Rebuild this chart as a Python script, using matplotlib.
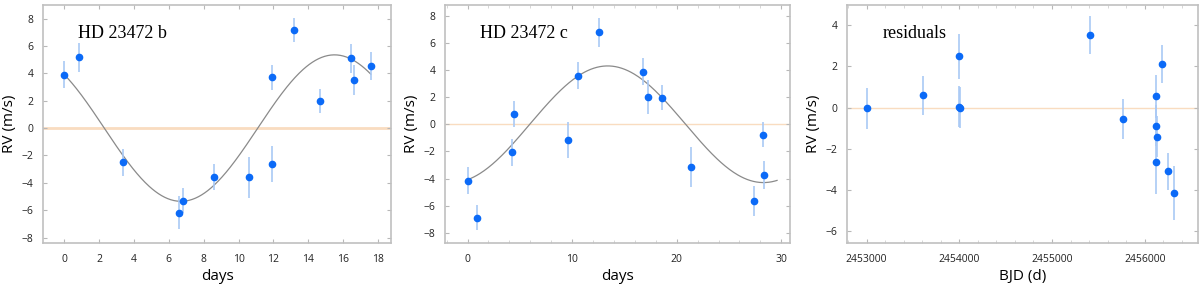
import matplotlib.pyplot as plt
import numpy as np
from matplotlib.ticker import AutoMinorLocator

# HD 23472 b phase data
b_days = [0.0, 0.86, 3.36, 6.59, 6.84, 8.6, 10.6, 11.94, 11.94, 13.2, 14.68, 16.45, 16.59, 17.58]
b_rv = [3.9, 5.17, -2.5, -6.19, -5.31, -3.55, -3.6, 3.7, -2.63, 7.17, 1.99, 5.09, 3.53, 4.53]
b_err = [1.0, 1.07, 1.0, 1.2, 0.9, 0.95, 1.5, 0.9, 1.3, 0.9, 0.9, 1.05, 1.1, 1.0]
# model parameters (K, P, time of max)
b_K, b_P, b_tmax = 5.35, 17.6, 15.5

# HD 23472 c phase data
c_days = [0.0, 0.92, 4.27, 4.46, 9.63, 10.55, 12.56, 16.77, 17.28, 18.58, 21.36, 27.35, 28.28, 28.31]
c_rv = [-4.16, -6.89, -2.07, 0.76, -1.16, 3.59, 6.77, 3.86, 2.04, 1.97, -3.15, -5.64, -0.76, -3.74]
c_err = [1.0, 0.92, 1.0, 0.95, 1.3, 1.0, 1.1, 1.0, 1.25, 0.95, 1.5, 1.1, 0.9, 1.0]
c_K, c_P, c_tmax = 4.3, 29.8, 13.4

# residuals
r_bjd = [2453000, 2453609, 2453995, 2453995, 2454003, 2455409, 2455770, 2456123,
         2456116, 2456127, 2456119, 2456188, 2456246, 2456314]
r_rv = [-0.04, 0.61, 2.5, 0.04, 0.0, 3.52, -0.54, 0.54, -0.88, -1.41, -2.67, 2.13, -3.11, -4.16]
r_err = [1.0, 0.95, 1.1, 1.0, 1.0, 0.93, 0.98, 1.03, 1.0, 1.0, 1.55, 0.93, 0.91, 1.3]

plt.rcParams['font.family'] = ['Open Sans', 'DejaVu Sans']

fig = plt.figure(figsize=(12, 2.88), dpi=100)
ax1 = fig.add_axes([0.036, 0.156, 0.290, 0.827])
ax2 = fig.add_axes([0.371, 0.156, 0.287, 0.827])
ax3 = fig.add_axes([0.706, 0.156, 0.292, 0.827])

pt = '#0b6af7'
eb = '#a9c9f5'
zero_c = '#f9dcc0'


def style(ax, xlabel, xminor):
    for s in ax.spines.values():
        s.set_color('#c0c0c0')
        s.set_linewidth(1.2)
    ax.tick_params(direction='in', top=True, right=True, labelsize=7.5,
                   color='#b8b8b8', length=3, labelcolor='#222222')
    ax.tick_params(axis='x', pad=8)
    ax.tick_params(axis='y', pad=7)
    if xminor:
        ax.xaxis.set_minor_locator(AutoMinorLocator(xminor))
        ax.tick_params(which='minor', direction='in', top=True, color='#d0d0d0', length=2)
    ax.set_xlabel(xlabel, fontsize=11, labelpad=3)
    ax.set_ylabel('RV (m/s)', fontsize=11, labelpad=3)


def panel(ax, x, y, e, label, lw0):
    ax.axhline(0, color=zero_c, lw=lw0, zorder=1)
    ax.errorbar(x, y, yerr=e, fmt='o', color=pt, ms=4.5, ecolor=eb, elinewidth=1.2, capsize=0, zorder=3)
    ax.text(0.1, 0.86, label, transform=ax.transAxes, fontsize=13, family='Liberation Serif')


# panel b
t = np.linspace(0, b_days[-1], 300)
ax1.plot(t, b_K * np.cos(2 * np.pi * (t - b_tmax) / b_P), color='#8a8a8a', lw=0.9, zorder=2)
panel(ax1, b_days, b_rv, b_err, 'HD 23472 b', 2)
ax1.set_xlim(-1.2, 18.75)
ax1.set_ylim(-8.4, 9.0)
ax1.set_xticks(np.arange(0, 19, 2))
ax1.set_yticks(np.arange(-8, 9, 2))
style(ax1, 'days', None)

# panel c
t = np.linspace(0, 29.6, 300)
ax2.plot(t, c_K * np.cos(2 * np.pi * (t - c_tmax) / c_P), color='#8a8a8a', lw=0.9, zorder=2)
panel(ax2, c_days, c_rv, c_err, 'HD 23472 c', 1)
ax2.set_xlim(-2.14, 30.8)
ax2.set_ylim(-8.76, 8.8)
ax2.set_xticks([0, 10, 20, 30])
ax2.set_yticks(np.arange(-8, 9, 2))
style(ax2, 'days', 5)

# residuals
panel(ax3, r_bjd, r_rv, r_err, 'residuals', 1)
ax3.set_xlim(2452791, 2456570)
ax3.set_ylim(-6.6, 5.0)
ax3.set_xticks([2453000, 2454000, 2455000, 2456000])
ax3.set_xticklabels(['2453000', '2454000', '2455000', '2456000'])
ax3.set_yticks(np.arange(-6, 5, 2))
style(ax3, 'BJD (d)', 5)

fig.savefig('out.png', dpi=100)
